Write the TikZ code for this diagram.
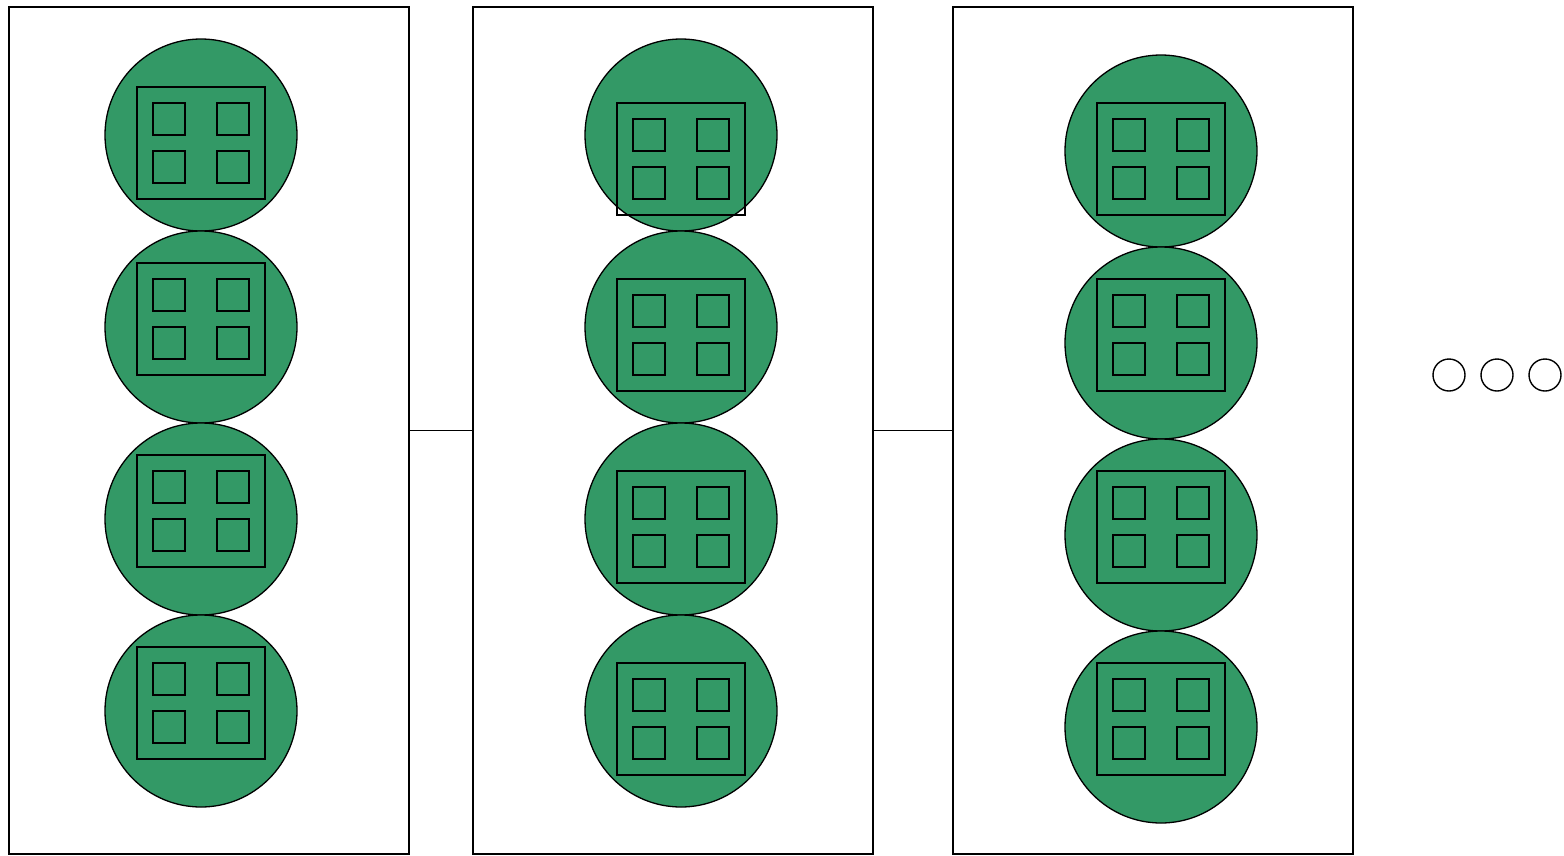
\documentclass[tikz,border=0pt]{standalone}
\definecolor{cellgreen}{RGB}{51,153,102}
\tikzset{
  panel/.style={draw=black, line width=1.4pt, minimum width=400pt, minimum height=847pt, inner sep=0pt, outer sep=0pt},
  cell/.style={circle, draw=black, line width=1.3pt, fill=cellgreen, minimum size=192pt, inner sep=0pt, outer sep=0pt},
  chip/.style={draw=black, line width=1.6pt, minimum width=128pt, minimum height=112pt, inner sep=0pt, outer sep=0pt},
  core/.style={draw=black, line width=1.6pt, minimum size=32pt, inner sep=0pt, outer sep=0pt},
  dot/.style={circle, draw=black, line width=1.4pt, fill=white, minimum size=32pt, inner sep=0pt},
  link/.style={draw=black, line width=1.4pt}
}
\begin{document}
\begin{tikzpicture}[x=1pt, y=-1pt]
\useasboundingbox (0,0) rectangle (1564,855);
\node[panel] (p1) at (209,430.5) {};
\node[panel] (p2) at (673,430.5) {};
\node[panel] (p3) at (1153,430.5) {};
\draw[link] (p1.east) -- (p2.west);
\draw[link] (p2.east) -- (p3.west);
% columns: index/cx/circle y's/rect tops
\foreach \c/\cx/\ya/\yb/\yc/\yd/\ta/\tb/\tc/\td in {
  1/201/135/327/519/711/87/263/455/647,
  2/681/135/327/519/711/103/279/471/663,
  3/1161/151/343/535/727/103/279/471/663}{
  \foreach \r/\cy/\tp in {1/\ya/\ta, 2/\yb/\tb, 3/\yc/\tc, 4/\yd/\td}{
    \node[cell] (c\c-\r) at (\cx,\cy) {};
    \node[chip] (k\c-\r) at (\cx,\tp+56) {};
    \node[core] (q\c-\r-a) at (\cx-32,\tp+32) {};
    \node[core] (q\c-\r-b) at (\cx+32,\tp+32) {};
    \node[core] (q\c-\r-c) at (\cx-32,\tp+80) {};
    \node[core] (q\c-\r-d) at (\cx+32,\tp+80) {};
  }
}
\node[dot] (d1) at (1449,375) {};
\node[dot] (d2) at (1497,375) {};
\node[dot] (d3) at (1545,375) {};
\end{tikzpicture}
\end{document}
